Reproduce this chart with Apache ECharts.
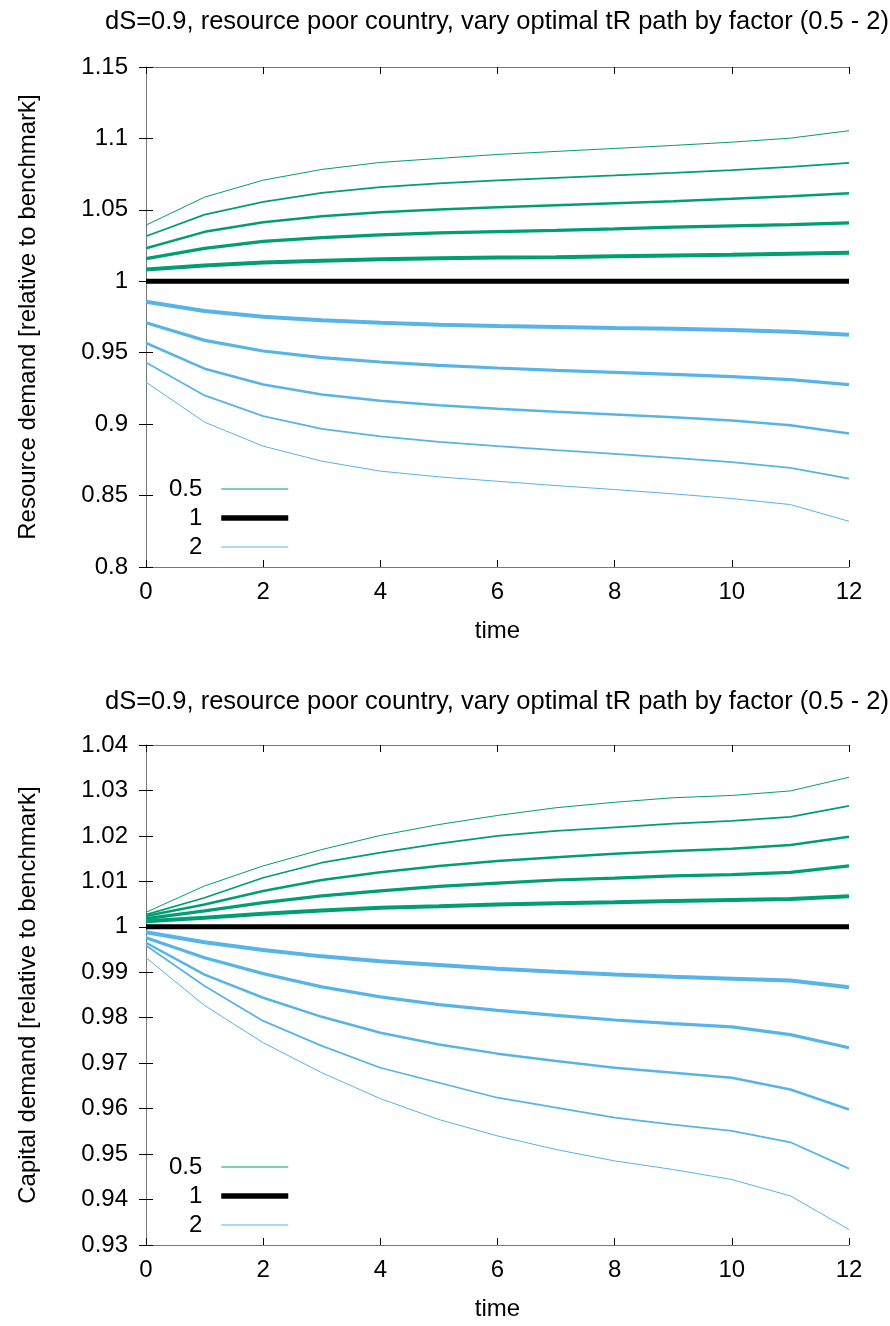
<!DOCTYPE html>
<html>
<head>
<meta charset="utf-8">
<script src="https://cdn.jsdelivr.net/npm/echarts@6/dist/echarts.min.js"></script>
<style>
html,body{margin:0;padding:0;background:#fff;}
#chart{width:890px;height:1326px;}
</style>
</head>
<body>
<div id="chart"></div>
<script>
const times = [0,1,2,3,4,5,6,7,8,9,10,11,12];
const xTicks = [0,2,4,6,8,10,12];
const titleText = 'dS=0.9, resource poor country, vary optimal tR path by factor (0.5 - 2)';
const factorNames = ['0.5','0.57','0.66','0.76','0.87','1','1.15','1.32','1.52','1.74','2'];
const legendNames = ['0.5','1','2'];

// Resource demand (top panel)
const resG1 = [1.0393,1.0589,1.0708,1.0783,1.0832,1.0860,1.0888,1.0909,1.0930,1.0951,1.0974,1.1002,1.1054];
const resG2 = [1.0315,1.0467,1.0556,1.0619,1.0659,1.0685,1.0706,1.0724,1.0741,1.0759,1.0778,1.0801,1.0829];
const resG3 = [1.0231,1.0346,1.0414,1.0456,1.0484,1.0502,1.0519,1.0533,1.0547,1.0561,1.0577,1.0596,1.0617];
const resG4 = [1.0159,1.0231,1.0280,1.0306,1.0325,1.0339,1.0348,1.0357,1.0367,1.0379,1.0388,1.0397,1.0409];
const resG5 = [1.0082,1.0110,1.0131,1.0143,1.0154,1.0161,1.0166,1.0168,1.0175,1.0180,1.0185,1.0192,1.0199];
const resBase = [1,1,1,1,1,1,1,1,1,1,1,1,1];
const resB1 = [0.9857,0.9792,0.9752,0.9727,0.9710,0.9696,0.9687,0.9680,0.9673,0.9668,0.9659,0.9647,0.9626];
const resB2 = [0.9710,0.9586,0.9512,0.9465,0.9435,0.9411,0.9393,0.9376,0.9362,0.9348,0.9332,0.9311,0.9276];
const resB3 = [0.9568,0.9388,0.9278,0.9208,0.9164,0.9133,0.9107,0.9086,0.9068,0.9049,0.9026,0.8993,0.8935];
const resB4 = [0.9432,0.9201,0.9056,0.8967,0.8914,0.8876,0.8846,0.8818,0.8792,0.8764,0.8734,0.8694,0.8619];
const resB5 = [0.9294,0.9014,0.8846,0.8741,0.8671,0.8631,0.8600,0.8570,0.8542,0.8512,0.8479,0.8437,0.8320];

// Capital demand (bottom panel)
const capG1 = [1.0032,1.0090,1.0134,1.0170,1.0201,1.0225,1.0245,1.0262,1.0274,1.0284,1.0289,1.0299,1.0329];
const capG2 = [1.0027,1.0064,1.0108,1.0141,1.0163,1.0183,1.0200,1.0211,1.0219,1.0227,1.0233,1.0242,1.0266];
const capG3 = [1.0024,1.0049,1.0079,1.0103,1.0120,1.0134,1.0145,1.0153,1.0161,1.0167,1.0172,1.0180,1.0198];
const capG4 = [1.0018,1.0035,1.0053,1.0068,1.0079,1.0089,1.0096,1.0103,1.0107,1.0112,1.0115,1.0120,1.0134];
const capG5 = [1.0012,1.0020,1.0029,1.0036,1.0042,1.0045,1.0049,1.0052,1.0054,1.0057,1.0059,1.0061,1.0067];
const capBase = [1,1,1,1,1,1,1,1,1,1,1,1,1];
const capB1 = [0.9988,0.9966,0.9949,0.9935,0.9924,0.9916,0.9908,0.9901,0.9895,0.9890,0.9886,0.9882,0.9867];
const capB2 = [0.9976,0.9932,0.9897,0.9868,0.9846,0.9829,0.9816,0.9805,0.9795,0.9787,0.9780,0.9763,0.9734];
const capB3 = [0.9965,0.9895,0.9844,0.9802,0.9767,0.9741,0.9721,0.9705,0.9690,0.9679,0.9668,0.9642,0.9598];
const capB4 = [0.9959,0.9870,0.9793,0.9738,0.9690,0.9657,0.9624,0.9602,0.9580,0.9565,0.9551,0.9526,0.9468];
const capB5 = [0.9932,0.9827,0.9745,0.9679,0.9622,0.9576,0.9540,0.9510,0.9485,0.9466,0.9444,0.9408,0.9334];

const resSeries = [resG1,resG2,resG3,resG4,resG5,resBase,resB1,resB2,resB3,resB4,resB5];
const capSeries = [capG1,capG2,capG3,capG4,capG5,capBase,capB1,capB2,capB3,capB4,capB5];

const GREEN = '#009e73', BLUE = '#56b4e9', BLACK = '#000000';
const colors = [GREEN,GREEN,GREEN,GREEN,GREEN,BLACK,BLUE,BLUE,BLUE,BLUE,BLUE];
const widths = [1,1.75,2.5,3.25,4,5,4,3.25,2.5,1.75,1];
const legendWidths = [1.2,5.5,1.2];

const FONT = 'Liberation Sans, Arial, Helvetica, sans-serif';
const AX = '#777777';

function panelAxes(gi, yMin, yMax, yInt, yName) {
  const xs = [
    {gridIndex: gi, type: 'value', min: 0, max: 12, interval: 2, position: 'bottom',
     name: 'time', nameLocation: 'middle', nameGap: 52,
     nameTextStyle: {fontSize: 24, color: '#000', fontFamily: FONT},
     axisLine: {show: true, lineStyle: {color: AX, width: 1}},
     axisTick: {show: true, inside: true, length: 7, lineStyle: {color: '#000'}},
     axisLabel: {show: true, margin: 13, fontSize: 24, color: '#000', fontFamily: FONT,
                 formatter: v => xTicks.indexOf(v) >= 0 ? String(v) : ''},
     splitLine: {show: false}},
    {gridIndex: gi, type: 'value', min: 0, max: 12, interval: 2, position: 'top',
     axisLine: {show: true, lineStyle: {color: AX, width: 1}},
     axisTick: {show: true, inside: true, length: 7, lineStyle: {color: '#000'}},
     axisLabel: {show: false}, splitLine: {show: false}}
  ];
  const ys = [
    {gridIndex: gi, type: 'value', min: yMin, max: yMax, interval: yInt, position: 'left',
     name: yName, nameLocation: 'middle', nameGap: 106, nameRotate: 90,
     nameTextStyle: {fontSize: 24, color: '#000', fontFamily: FONT},
     axisLine: {show: true, lineStyle: {color: AX, width: 1}},
     axisTick: {show: true, inside: true, length: 7, lineStyle: {color: '#000'}},
     axisLabel: {show: true, margin: 18, fontSize: 24, color: '#000', fontFamily: FONT},
     splitLine: {show: false}},
    {gridIndex: gi, type: 'value', min: yMin, max: yMax, interval: yInt, position: 'right',
     axisLine: {show: true, lineStyle: {color: AX, width: 1}},
     axisTick: {show: true, inside: true, length: 7, lineStyle: {color: '#000'}},
     axisLabel: {show: false}, splitLine: {show: false}}
  ];
  return {xs, ys};
}

const p1 = panelAxes(0, 0.8, 1.15, 0.05, 'Resource demand [relative to benchmark]');
const p2 = panelAxes(1, 0.93, 1.04, 0.01, 'Capital demand [relative to benchmark]');

function buildSeries(arrs, xi, yi) {
  return arrs.map((arr, i) => ({
    name: factorNames[i],
    type: 'line',
    xAxisIndex: xi,
    yAxisIndex: yi,
    data: times.map((t, k) => [t, arr[k]]),
    symbol: 'none',
    showSymbol: false,
    lineStyle: {color: colors[i], width: widths[i]},
    itemStyle: {color: colors[i]},
    z: i === 5 ? 3 : 2,
    silent: true
  }));
}

const legendCommon = {
  data: legendNames.map((n, i) => ({
    name: n,
    lineStyle: {width: legendWidths[i]},
    itemStyle: {opacity: 0, color: 'rgba(0,0,0,0)', borderWidth: 0}
  })),
  orient: 'vertical',
  align: 'right',
  right: 599,
  padding: 0,
  itemGap: 5,
  itemWidth: 67,
  itemHeight: 14,
  selectedMode: false,
  itemStyle: {opacity: 0, color: 'rgba(0,0,0,0)', borderWidth: 0},
  textStyle: {fontSize: 24, color: '#000', fontFamily: FONT, padding: [0, 14, 0, 0]}
};

const option = {
  animation: false,
  backgroundColor: '#ffffff',
  title: [
    {text: titleText, left: 497, top: 9, textAlign: 'center', padding: 0,
     textStyle: {fontSize: 25.5, fontWeight: 'normal', color: '#000', fontFamily: FONT}},
    {text: titleText, left: 497, top: 689, textAlign: 'center', padding: 0,
     textStyle: {fontSize: 25.5, fontWeight: 'normal', color: '#000', fontFamily: FONT}}
  ],
  legend: [
    Object.assign({}, legendCommon, {top: 477}),
    Object.assign({}, legendCommon, {top: 1155})
  ],
  grid: [
    {left: 146, top: 67, width: 703, height: 500, containLabel: false},
    {left: 146, top: 745, width: 703, height: 500, containLabel: false}
  ],
  xAxis: [p1.xs[0], p1.xs[1], p2.xs[0], p2.xs[1]],
  yAxis: [p1.ys[0], p1.ys[1], p2.ys[0], p2.ys[1]],
  series: buildSeries(resSeries, 0, 0).concat(buildSeries(capSeries, 2, 2))
};

const chart = echarts.init(document.getElementById('chart'), null, {renderer: 'canvas'});
chart.setOption(option);
</script>
</body>
</html>
